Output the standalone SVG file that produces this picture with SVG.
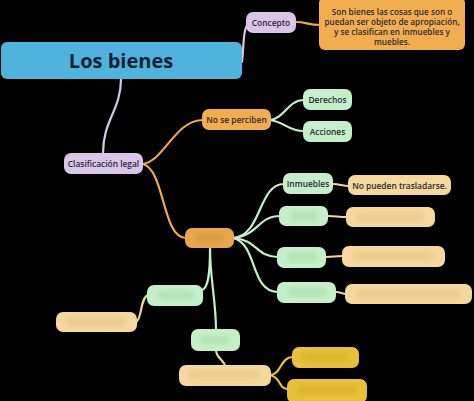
<svg xmlns="http://www.w3.org/2000/svg" width="474" height="401" viewBox="0 0 474 401">
<defs>
<style>
.t{font-family:"Open Sans","Noto Sans","Liberation Sans",sans-serif;fill:#2b2838;text-anchor:middle;font-weight:600}
.s{font-size:8.4px}
.lav{fill:#d9c5e8}
.org{fill:#f2ae4e}
.grn{fill:#c4efc8}
.crm{fill:#f6d89c}
.yel{fill:#e8c13a}
.c{fill:none;stroke-width:2.2;stroke-linecap:round}
.cl{stroke:#d9c5e8}
.co{stroke:#f0ab48}
.cg{stroke:#c4efc8}
.cc{stroke:#f1d69a}
.cy{stroke:#e8c13a}
.smudge{filter:url(#b);opacity:0.55}
</style>
<filter id="b" x="-20%" y="-50%" width="140%" height="200%"><feGaussianBlur stdDeviation="2.2"/></filter>
</defs>
<rect width="474" height="401" fill="#000"/>
<g id="connectors">
<path class="c cl" d="M242,62 C244,44 243,30 248,24"/>
<path class="c co" d="M296,22 C306,22 308,25 320,25"/>
<path class="c cl" d="M121,79 C121,110 103,120 103,153"/>
<path class="c co" d="M143,164 C165,160 175,120 203,120"/>
<path class="c co" d="M143,164 C165,170 162,238 186,238"/>
<path class="c cg" d="M270,120 C285,118 288,100 304,100"/>
<path class="c cg" d="M270,120 C285,122 288,131 304,131"/>
<path class="c cg" d="M233,238 C262,236 258,184 284,184"/>
<path class="c cg" d="M233,238 C258,236 258,216 280,216"/>
<path class="c cg" d="M233,238 C258,240 256,257 278,257"/>
<path class="c cg" d="M233,238 C258,244 250,292 278,292"/>
<path class="c cg" d="M210,247 C210,280 216,300 216,330"/>
<path class="c cg" d="M210,250 C210,275 208,288 202,290"/>
<path class="c cc" d="M333,184 C340,184 342,186 349,186"/>
<path class="c cc" d="M328,216 C336,216 338,217 347,217"/>
<path class="c cc" d="M326,257 C334,257 334,256 343,256"/>
<path class="c cc" d="M336,292 C341,292 342,294 346,294"/>
<path class="c cc" d="M148,295 C140,298 142,320 136,322"/>
<path class="c cc" d="M216,350 C216,358 224,360 225,366"/>
<path class="c cy" d="M270,375 C282,374 280,357 293,357"/>
<path class="c cy" d="M270,375 C282,378 278,389 288,389"/>
</g>
<g id="main"><rect x="1" y="42" width="241" height="37" rx="6" fill="#4fb3db"/><text class="t" x="121" y="68" font-size="20" font-weight="bold" style="fill:#13203a;font-weight:700">Los bienes</text></g>
<g id="concepto"><rect class="lav" x="246" y="12" width="50" height="21" rx="7"/><text class="t s" x="271" y="25.5">Concepto</text></g>
<g id="definicion"><rect class="org" x="319" y="-3" width="146" height="53" rx="6"/>
<text class="t" font-size="8.2" x="392" y="14.5">Son bienes las cosas que son o</text>
<text class="t" font-size="8.2" x="392" y="24.5">puedan ser objeto de apropiación,</text>
<text class="t" font-size="8.2" x="392" y="34.5">y se clasifican en inmuebles y</text>
<text class="t" font-size="8.2" x="392" y="44.5">muebles.</text></g>
<g id="clasificacion"><rect class="lav" x="64" y="153" width="79" height="21" rx="7"/><text class="t s" x="103.5" y="166.5">Clasificación legal</text></g>
<g id="no-se-perciben"><rect class="org" x="202" y="109" width="69" height="21" rx="7"/><text class="t s" x="236.5" y="122.5">No se perciben</text></g>
<g id="derechos"><rect class="grn" x="303" y="89" width="49" height="21" rx="7"/><text class="t s" x="327.5" y="102.5">Derechos</text></g>
<g id="acciones"><rect class="grn" x="303" y="121" width="49" height="21" rx="7"/><text class="t s" x="327.5" y="134.5">Acciones</text></g>
<g id="n-muebles"><rect x="185" y="228" width="49" height="20" rx="7" fill="#e9a64c"/><rect class="smudge" x="196" y="234" width="28" height="8" rx="3" fill="#d08f3a"/></g>
<g id="inmuebles"><rect class="grn" x="283" y="173" width="50" height="21" rx="7"/><text class="t s" x="308" y="186.5">Inmuebles</text></g>
<g id="inmuebles-def"><rect class="crm" x="348" y="175" width="103" height="20" rx="7"/><text class="t s" x="399.5" y="188.5">No pueden trasladarse.</text></g>
<g id="n2"><rect class="grn" x="279" y="206" width="49" height="20" rx="7"/><rect class="smudge" x="290" y="212" width="28" height="8" rx="3" fill="#a5d8a9"/></g>
<g id="n2-def"><rect class="crm" x="346" y="207" width="89" height="20" rx="7"/><rect class="smudge" x="356" y="213" width="68" height="8" rx="3" fill="#e0c186"/></g>
<g id="n3"><rect class="grn" x="277" y="247" width="49" height="21" rx="7"/><rect class="smudge" x="288" y="253" width="28" height="8" rx="3" fill="#a5d8a9"/></g>
<g id="n3-def"><rect class="crm" x="342" y="246" width="103" height="21" rx="7"/><rect class="smudge" x="352" y="252" width="82" height="8" rx="3" fill="#e0c186"/></g>
<g id="n4"><rect class="grn" x="277" y="282" width="59" height="21" rx="7"/><rect class="smudge" x="288" y="288" width="38" height="8" rx="3" fill="#a5d8a9"/></g>
<g id="n4-def"><rect class="crm" x="345" y="284" width="127" height="20" rx="7"/><rect class="smudge" x="356" y="290" width="105" height="8" rx="3" fill="#e0c186"/></g>
<g id="n5"><rect class="grn" x="147" y="285" width="56" height="21" rx="7"/><rect class="smudge" x="158" y="291" width="35" height="8" rx="3" fill="#a5d8a9"/></g>
<g id="n5-def"><rect class="crm" x="56" y="312" width="81" height="20" rx="7"/><rect class="smudge" x="66" y="318" width="60" height="8" rx="3" fill="#e0c186"/></g>
<g id="n6"><rect class="grn" x="191" y="329" width="49" height="22" rx="7"/><rect class="smudge" x="201" y="336" width="28" height="8" rx="3" fill="#a5d8a9"/></g>
<g id="n6-def"><rect class="crm" x="179" y="365" width="92" height="21" rx="7"/><rect class="smudge" x="189" y="371" width="71" height="8" rx="3" fill="#e0c186"/></g>
<g id="n7"><rect class="yel" x="292" y="347" width="67" height="21" rx="7"/><rect class="smudge" x="302" y="353" width="46" height="8" rx="3" fill="#d2a92a"/></g>
<g id="n8"><rect class="yel" x="287" y="379" width="80" height="24" rx="7"/><rect class="smudge" x="297" y="386" width="60" height="8" rx="3" fill="#d2a92a"/></g>
</svg>
